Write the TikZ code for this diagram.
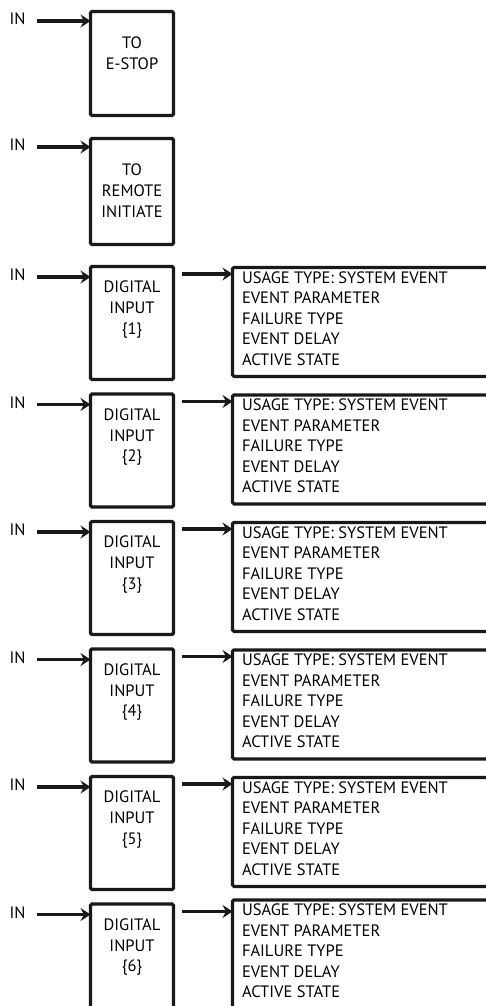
\documentclass[tikz,border=0pt]{standalone}
\usepackage{fontspec}
\setmainfont{PT Sans}
\usetikzlibrary{arrows.meta}
\begin{document}
\begin{tikzpicture}[x=1pt,y=-1pt,
  every node/.style={inner sep=0pt, outer sep=0pt},
  txt/.style={font=\fontsize{16.5}{20.8}\selectfont, text=black},
  rtxt/.style={font=\fontsize{16.5}{20.5}\selectfont, text=black},
  blk/.style={draw=black!90, line width=3.2pt, rounded corners=1.5pt, anchor=north west},
  arr/.style={draw=black!90, line width=3.2pt, -{Stealth[length=10pt,width=13pt,inset=3.5pt]}}]
\useasboundingbox (0,0) rectangle (486,1006);
\clip (0,0) rectangle (486,1006);
% row 1
\node[blk, minimum width=83pt, minimum height=104pt] (b1) at (90.5,11.5) {};
\node[txt, align=center, anchor=north] (t1) at (132,37) {TO\\E-STOP};
\node[txt] (in1) at (17.5,19) {IN};
\draw[arr] (37,21) -- (b1.west |- 0,21);
% row 2
\node[blk, minimum width=83pt, minimum height=106pt] (b2) at (90.5,138.5) {};
\node[txt, align=center, anchor=north] (t2) at (132,164) {TO\\REMOTE\\INITIATE};
\node[txt] (in2) at (17.5,145) {IN};
\draw[arr] (37,147) -- (b2.west |- 0,147);
% digital rows
\foreach \k/\n/\d in {3/1/0,4/2/0,5/3/0,6/4/0,7/5/0,8/6/-5}{
  \pgfmathsetmacro{\T}{265+127.5*(\k-3)}
  \pgfmathsetmacro{\R}{\T+\d}
  \node[blk, minimum width=83pt, minimum height=113pt] (b\k) at (90.5,\T+1.5) {};
  \node[txt, align=center, anchor=north] (t\k) at (132,\T+16) {DIGITAL\\INPUT\\\{\n\}};
  \node[txt] (in\k) at (17.5,\T+10) {IN};
  \coordinate (a\k) at (37,\T+12);
  \draw[arr] (a\k) -- (a\k -| b\k.west);
  \node[blk, minimum width=280pt, minimum height=109pt] (r\k) at (232.5,\R+2.4) {};
  \node[rtxt, align=left, anchor=north west] (s\k) at (242,\R+6.5)
    {USAGE TYPE: SYSTEM EVENT\\EVENT PARAMETER\\FAILURE TYPE\\EVENT DELAY\\ACTIVE STATE};
  \coordinate (c\k) at (182,\T+9);
  \draw[arr] (c\k) -- (c\k -| r\k.west);
}
\end{tikzpicture}
\end{document}
